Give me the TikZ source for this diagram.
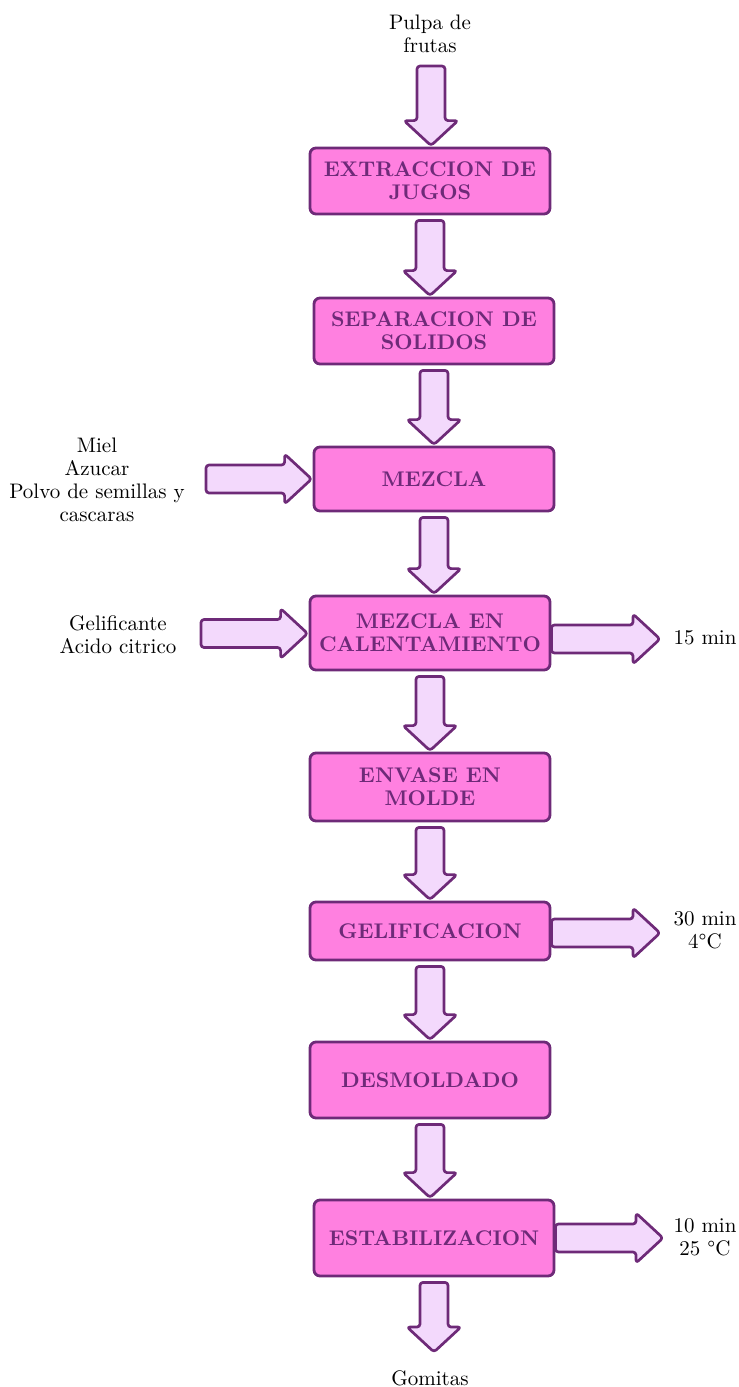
\documentclass[tikz,border=0pt]{standalone}
\usetikzlibrary{calc}

\definecolor{rosa}{HTML}{FF80E0}
\definecolor{morado}{HTML}{6E2A78}
\definecolor{lila}{HTML}{F3D9FC}

\tikzset{
  paso/.style={draw=morado, fill=rosa, line width=1.4pt, rounded corners=3pt,
    text=morado, font=\bfseries\fontsize{10.6}{11.5}\selectfont, align=center,
    minimum width=120pt, inner sep=2pt},
  flecha/.style={draw=morado, fill=lila, line width=1.35pt, rounded corners=1.5pt,
    line join=round},
  texto/.style={font=\fontsize{10.5}{11.5}\selectfont, align=center, inner sep=0pt},
}

% block arrow going down, from #1 to #2
\newcommand{\flechaabajo}[2]{%
  \draw[flecha] let \p1=#1, \p2=#2 in
    (\x1-7pt,\y1-2.5pt) -- (\x1+7pt,\y1-2.5pt) -- (\x1+7pt,\y2+13pt)
    -- (\x1+13.5pt,\y2+13pt) -- (\x1,\y2+0.5pt) -- (\x1-13.5pt,\y2+13pt)
    -- (\x1-7pt,\y2+13pt) -- cycle;}
% block arrow going right, from #1 to #2 (height of #2)
\newcommand{\flechaderecha}[2]{%
  \draw[flecha] let \p1=#1, \p2=#2 in
    (\x1,\y2+7pt) -- (\x2-14pt,\y2+7pt) -- (\x2-14pt,\y2+12.5pt)
    -- (\x2-0.5pt,\y2) -- (\x2-14pt,\y2-12.5pt) -- (\x2-14pt,\y2-7pt)
    -- (\x1,\y2-7pt) -- cycle;}

\begin{document}
\begin{tikzpicture}[x=0.5pt, y=-0.5pt]
\useasboundingbox (0,0) rectangle (739,1387);

% process steps
\node[paso, minimum height=33pt] (extraccion) at (430,181) {EXTRACCION DE\\JUGOS};
\node[paso, minimum height=33pt] (separacion) at (434,331) {SEPARACION DE\\SOLIDOS};
\node[paso, minimum height=32pt] (mezcla) at (434,479) {MEZCLA};
\node[paso, minimum height=37pt] (calentamiento) at (430,633) {MEZCLA EN\\CALENTAMIENTO};
\node[paso, minimum height=34pt] (envase) at (430,787) {ENVASE EN\\MOLDE};
\node[paso, minimum height=29pt] (gelificacion) at (430,931) {GELIFICACION};
\node[paso, minimum height=38pt] (desmoldado) at (430,1080) {DESMOLDADO};
\node[paso, minimum height=38pt] (estabilizacion) at (434,1238) {ESTABILIZACION};

% inputs, outputs and conditions
\node[texto] (pulpa) at (430,34) {Pulpa de\\frutas};
\node[texto] (gomitas) at (430,1378) {Gomitas};
\node[texto] (ingredientes) at (97,480) {Miel\\Azucar\\Polvo de semillas y\\cascaras};
\node[texto] (aditivos) at (118,635) {Gelificante\\Acido citrico};
\node[texto] (tiempo1) at (705,638) {15 min};
\node[texto] (tiempo2) at (705,930) {30 min\\4°C};
\node[texto] (tiempo3) at (705,1237) {10 min\\25 °C};

% free ends of the block arrows
\coordinate (entrada) at (431,66);
\coordinate (salida) at (434,1353);
\coordinate (colamiel) at (206,480);
\coordinate (colagel) at (201,633);
\coordinate (punta1) at (661,639);
\coordinate (punta2) at (661,933);
\coordinate (punta3) at (664,1238);

% main flow
\flechaabajo{($(entrada)+(0,-5)$)}{(extraccion.north)}
\flechaabajo{(extraccion.south)}{(separacion.north)}
\flechaabajo{(separacion.south)}{(mezcla.north)}
\flechaabajo{(mezcla.south)}{(calentamiento.north)}
\flechaabajo{(calentamiento.south)}{(envase.north)}
\flechaabajo{(envase.south)}{(gelificacion.north)}
\flechaabajo{(gelificacion.south)}{(desmoldado.north)}
\flechaabajo{(desmoldado.south)}{(estabilizacion.north)}
\flechaabajo{(estabilizacion.south)}{(salida)}

% side arrows
\flechaderecha{(colamiel)}{(mezcla.west)}
\flechaderecha{(colagel)}{($(calentamiento.west)+(0,0.5)$)}
\flechaderecha{(calentamiento.east)}{(punta1)}
\flechaderecha{(gelificacion.east)}{(punta2)}
\flechaderecha{(estabilizacion.east)}{(punta3)}
\end{tikzpicture}
\end{document}
